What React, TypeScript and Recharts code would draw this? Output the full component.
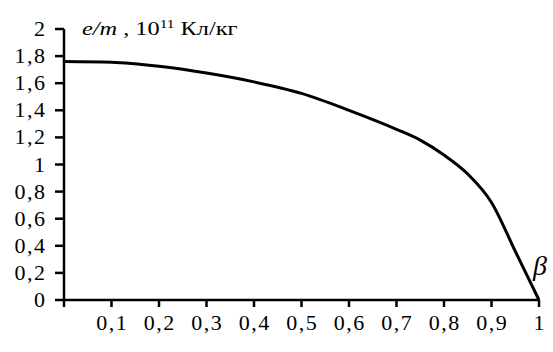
import { Line, LineChart, XAxis, YAxis } from "recharts";

// beta (v/c) against specific charge e/m, 10^11 C/kg
const betaValues = [0, 0.1, 0.2, 0.3, 0.4, 0.5, 0.6, 0.7, 0.75, 0.8, 0.85, 0.9, 0.95, 1];
const chargeRatio = [1.76, 1.755, 1.725, 1.675, 1.61, 1.525, 1.4, 1.26, 1.18, 1.07, 0.93, 0.72, 0.36, 0];

const xTicks = [0, 0.1, 0.2, 0.3, 0.4, 0.5, 0.6, 0.7, 0.8, 0.9, 1];
const yTicks = [0, 0.2, 0.4, 0.6, 0.8, 1, 1.2, 1.4, 1.6, 1.8, 2];

const chartData = betaValues.map((beta, i) => ({ beta, em: chargeRatio[i] }));

const serif = "Liberation Serif";

function withComma(value: number) {
  return String(Number(value.toFixed(2))).replace(".", ",");
}

const labelCss = {
  fontFamily: serif,
  fontSize: 22,
  letterSpacing: 1.5,
  lineHeight: "30px",
  color: "#000",
  whiteSpace: "nowrap" as const,
};

// tick labels drawn as html inside the svg, at the coordinates recharts hands over
function XTick({ x, y, payload }: { x: number; y: number; payload: { value: number } }) {
  if (payload.value === 0) return null;
  return (
    <foreignObject x={x - 30 + 0.75} y={y - 7} width={60} height={30}>
      <div style={{ ...labelCss, textAlign: "center" }}>{withComma(payload.value)}</div>
    </foreignObject>
  );
}

function YTick({ x, y, payload }: { x: number; y: number; payload: { value: number } }) {
  return (
    <foreignObject x={x - 60 + 1.5} y={y - 15} width={60} height={30}>
      <div style={{ ...labelCss, textAlign: "right" }}>{withComma(payload.value)}</div>
    </foreignObject>
  );
}

export default function App() {
  return (
    <div style={{ position: "absolute", left: 0, top: 0, width: 553, height: 352, background: "#fff" }}>
      <LineChart
        width={553}
        height={352}
        data={chartData}
        margin={{ top: 29, right: 14, bottom: 0, left: 0 }}
      >
        <XAxis
          dataKey="beta"
          type="number"
          domain={[0, 1]}
          ticks={xTicks}
          height={52}
          stroke="#000"
          strokeWidth={2.5}
          tickSize={7}
          tickMargin={8}
          tick={XTick}
          interval={0}
        />
        <YAxis
          type="number"
          domain={[0, 2]}
          ticks={yTicks}
          width={64}
          stroke="#000"
          strokeWidth={2.5}
          tickSize={9}
          tickMargin={10}
          tick={YTick}
          interval={0}
        />
        <Line
          dataKey="em"
          type="monotone"
          stroke="#000"
          strokeWidth={3}
          dot={false}
          isAnimationActive={false}
        />
      </LineChart>
      <div
        style={{
          position: "absolute",
          left: 82,
          top: 18,
          fontFamily: serif,
          fontSize: 19,
          lineHeight: "22px",
          color: "#000",
          whiteSpace: "nowrap",
          transform: "scaleX(1.28)",
          transformOrigin: "left top",
        }}
      >
        <i>e/m</i> , 10
        <span style={{ fontSize: 12, position: "relative", top: -7 }}>11</span> Кл/кг
      </div>
      <div
        style={{
          position: "absolute",
          left: 533,
          top: 250,
          fontFamily: serif,
          fontSize: 28,
          fontStyle: "italic",
          color: "#000",
        }}
      >
        β
      </div>
    </div>
  );
}
